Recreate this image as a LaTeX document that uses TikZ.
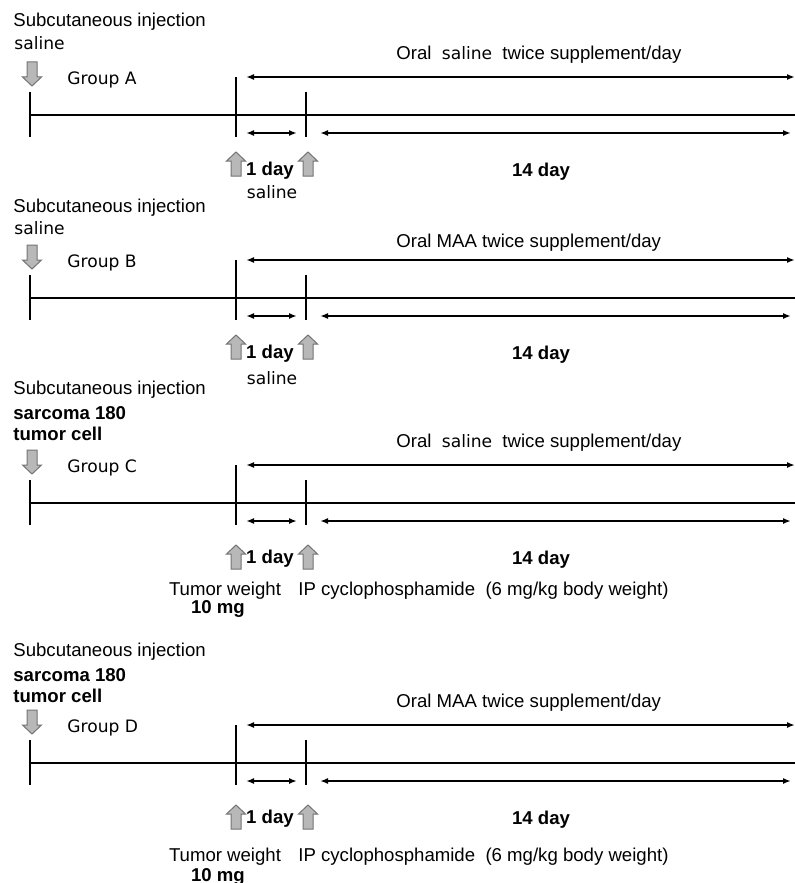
\documentclass[tikz,border=0pt]{standalone}
\usepackage{fontspec}
\setmainfont{Liberation Sans}
\newfontfamily\dotum{DejaVu Sans}[Scale=0.92]
\usetikzlibrary{arrows.meta, calc}

\tikzset{
  axis/.style={line width=1.1pt},
  tick/.style={line width=1.1pt},
  span/.style={line width=0.8pt, {Latex[length=4pt,width=3pt]}-{Latex[length=4pt,width=3pt]}},
  blockarrow/.style={draw=black!55, fill=black!28, line width=0.5pt},
  blk/.pic={
    \path[blockarrow] (-5,12) -- (-5,-3) -- (-9.5,-3) -- (0,-12) -- (9.5,-3) -- (5,-3) -- (5,12) -- cycle;
  },
  txt/.style={inner sep=0pt, font=\fontsize{9.3}{11}\selectfont},
  bold/.style={txt, font=\fontsize{9.3}{11}\selectfont\bfseries}
}

\begin{document}
\begin{tikzpicture}[x=0.5pt, y=-0.5pt]
  \useasboundingbox (0,0) rectangle (795,883);

  % timelines
  \foreach \g/\y/\u in {A/115/49, B/298/49, C/503/54, D/763/54} {
    \coordinate (\g-s) at (30,\y);
    \coordinate (\g-m) at (236,\y);
    \coordinate (\g-t) at (306,\y);
    \coordinate (\g-e) at (795,\y);
    \draw[axis] (\g-s) -- (\g-e);
    \draw[tick] (\g-s) ++(0,-23) -- ++(0,45);
    \draw[tick] (\g-m) ++(0,-38) -- ++(0,60);
    \draw[tick] (\g-t) ++(0,-23) -- ++(0,45);
    % spans
    \coordinate (\g-a1) at (246,\y-38);
    \coordinate (\g-a2) at (795,\y-38);
    \coordinate (\g-b1) at (246,\y+18);
    \coordinate (\g-b2) at (297,\y+18);
    \coordinate (\g-c1) at (320,\y+18);
    \coordinate (\g-c2) at (791,\y+18);
    \draw[span] (\g-a1) -- (\g-a2);
    \draw[span] (\g-b1) -- (\g-b2);
    \draw[span] (\g-c1) -- (\g-c2);
    % block arrows
    \pic[rotate=180] at (32,\y-41) {blk};
    \pic at (236,\y+\u) {blk};
    \pic at (308,\y+\u) {blk};
    % labels
    \node[txt, anchor=west] (\g-name) at (67,\y-35) {\dotum Group \g};
    \node[bold] (\g-oneday) at (270,\y+56) {1 day};
    \node[bold] (\g-fourteen) at (541,\y+57) {14 day};
  }

  % oral supplement texts
  \node[txt, anchor=west] (A-oral) at (396,55) {Oral \ {\dotum saline} \ twice supplement/day};
  \node[txt, anchor=west] (B-oral) at (396,243) {Oral MAA twice supplement/day};
  \node[txt, anchor=west] (C-oral) at (396,443) {Oral \ {\dotum saline} \ twice supplement/day};
  \node[txt, anchor=west] (D-oral) at (396,703) {Oral MAA twice supplement/day};

  % Group A
  \node[txt, anchor=west] (A-inj) at (13,22) {Subcutaneous injection};
  \node[txt, anchor=west] (A-sal) at (14,43) {\dotum saline};
  \node[txt] (A-under) at (272,192) {\dotum saline};

  % Group B
  \node[txt, anchor=west] (B-inj) at (13,208) {Subcutaneous injection};
  \node[txt, anchor=west] (B-sal) at (14,228) {\dotum saline};
  \node[txt] (B-under) at (272,378) {\dotum saline};

  % Group C
  \node[txt, anchor=west] (C-inj) at (13,390) {Subcutaneous injection};
  \node[bold, anchor=west] (C-sar) at (13,413) {sarcoma 180};
  \node[bold, anchor=west] (C-cell) at (13,434) {tumor cell};
  \node[txt] (C-weight) at (225,591) {Tumor weight};
  \node[bold] (C-mg) at (218,609) {10 mg};
  \node[txt, anchor=west] (C-ip) at (298,591) {IP cyclophosphamide \ (6 mg/kg body weight)};

  % Group D
  \node[txt, anchor=west] (D-inj) at (13,652) {Subcutaneous injection};
  \node[bold, anchor=west] (D-sar) at (13,675) {sarcoma 180};
  \node[bold, anchor=west] (D-cell) at (13,696) {tumor cell};
  \node[txt] (D-weight) at (225,857) {Tumor weight};
  \node[bold] (D-mg) at (218,877) {10 mg};
  \node[txt, anchor=west] (D-ip) at (298,857) {IP cyclophosphamide \ (6 mg/kg body weight)};
\end{tikzpicture}
\end{document}
